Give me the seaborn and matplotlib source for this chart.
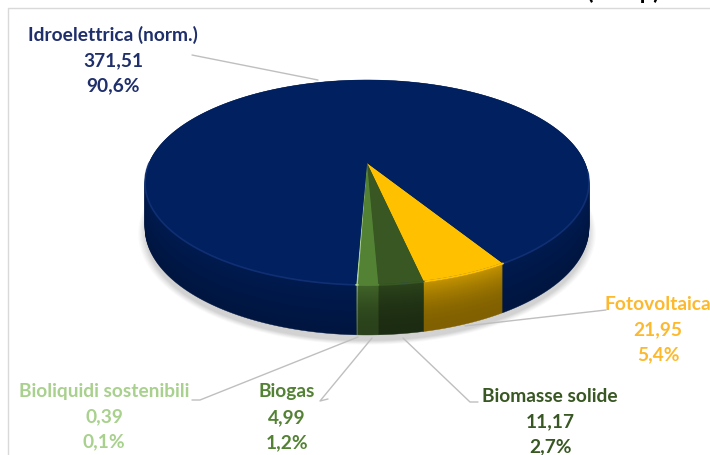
import numpy as np
import seaborn as sns
import matplotlib.pyplot as plt
from matplotlib.colors import to_rgb

# Values (clockwise, from the right edge of the yellow slice)
categories = ["Fotovoltaica", "Biomasse solide", "Biogas", "Bioliquidi sostenibili", "Idroelettrica (norm.)"]
values = [21.95, 11.17, 4.99, 0.39, 371.51]
value_labels = ["21,95", "11,17", "4,99", "0,39", "371,51"]
percent_labels = ["5,4%", "2,7%", "1,2%", "0,1%", "90,6%"]

top_colors = ["#ffc000", "#385723", "#548235", "#a9d18e", "#002060"]
text_colors = ["#fdb92e", "#385723", "#548235", "#a9d18e", "#1f2f6b"]

# Label anchors in pixels: x centre, y of the three lines
label_x = [658, 550, 287, 104, 113]
label_y = [304, 396, 392, 391, 35]
line_gap = 25.5

# Leader lines in pixels
leaders = [
    ([606, 465], [310, 326]),
    ([478, 470, 403], [402, 402, 338]),
    ([328, 320, 372], [399, 401, 338]),
    ([192, 200, 358], [400, 400, 337]),
    ([192, 318], [55, 80]),
]

# Perspective of the disc
apex = (367, 163)
width, height, k = 218, 98.8, 0.19
start_angle = -58.5
depth_mid, depth_tilt = 44, 6


def project(theta, r=1.0, t=0.0, grow=1.0):
    x = r * np.cos(theta)
    y = r * np.sin(theta)
    w = 1 + k * y
    depth = t * (depth_mid - depth_tilt * y)
    return apex[0] + grow * width * x / w, apex[1] - grow * height * y / w + depth


def wedge(a0, a1, t=0.0, grow=1.0):
    theta = np.radians(np.linspace(a0, a1, max(3, int(abs(a1 - a0) * 2))))
    px, py = project(theta, t=t, grow=grow)
    cx, cy = project(0.0, r=0.0, t=t)
    return np.r_[cx, px, cx], np.r_[cy, py, cy]


def shade(color, f):
    return tuple(c * f for c in to_rgb(color))


sns.set_theme(style="white")
plt.rcParams["font.family"] = ["Lato", "DejaVu Sans"]

fig = plt.figure(figsize=(7.1, 4.55), dpi=100)
ax = fig.add_axes([0, 0, 1, 1])
ax.set_xlim(0, 710)
ax.set_ylim(455, 0)
ax.axis("off")

# frame of the original slide
ax.plot([8, 8, 710], [455, 8, 8], color="#d9d9d9", lw=1)
ax.text(660, -1, "(MWp)", ha="right", va="baseline", fontsize=17, fontweight="bold", color="black")

sweep = np.array(values) / sum(values) * 360
edges = start_angle - np.r_[0, np.cumsum(sweep)]

# soft shadow under the disc
for g, a in zip(np.linspace(1.03, 1.0, 6), [0.04, 0.05, 0.06, 0.07, 0.08, 0.09]):
    sx, sy = wedge(0, 360, t=1.12, grow=g)
    ax.fill(sx, sy, color="#7f7f7f", alpha=a, lw=0)

# side of the disc, painted from the bottom up
for t in np.linspace(1, 0, 50):
    f = 0.5 + 0.28 * (1 - t) ** 2
    for i, c in enumerate(top_colors):
        wx, wy = wedge(edges[i], edges[i + 1], t=t)
        ax.fill(wx, wy, color=shade(c, f if i < 4 else 0.66 + 0.16 * (1 - t)), lw=0.3)

# top face and its lighter rim
for i, c in enumerate(top_colors):
    wx, wy = wedge(edges[i], edges[i + 1])
    ax.fill(wx, wy, color=c, lw=0)
theta = np.radians(np.linspace(-180, -5, 200))
rx, ry = project(theta)
ax.plot(rx, ry, color="#17377f", lw=1.2, alpha=0.7)
for i, c in enumerate(top_colors[:4]):
    theta = np.radians(np.linspace(edges[i], edges[i + 1], 20))
    rx, ry = project(theta)
    ax.plot(rx, ry, color=c, lw=1.4)

# leader lines
for lx, ly in leaders:
    ax.plot(lx, ly, color="#bfbfbf", lw=1)

# labels
for i, name in enumerate(categories):
    lines = [name, value_labels[i], percent_labels[i]]
    for j, s in enumerate(lines):
        ax.text(label_x[i], label_y[i] + j * line_gap, s, color=text_colors[i], ha="center", va="center",
                fontsize=13.8, fontweight="bold")

fig.savefig("out.png", dpi=100)
